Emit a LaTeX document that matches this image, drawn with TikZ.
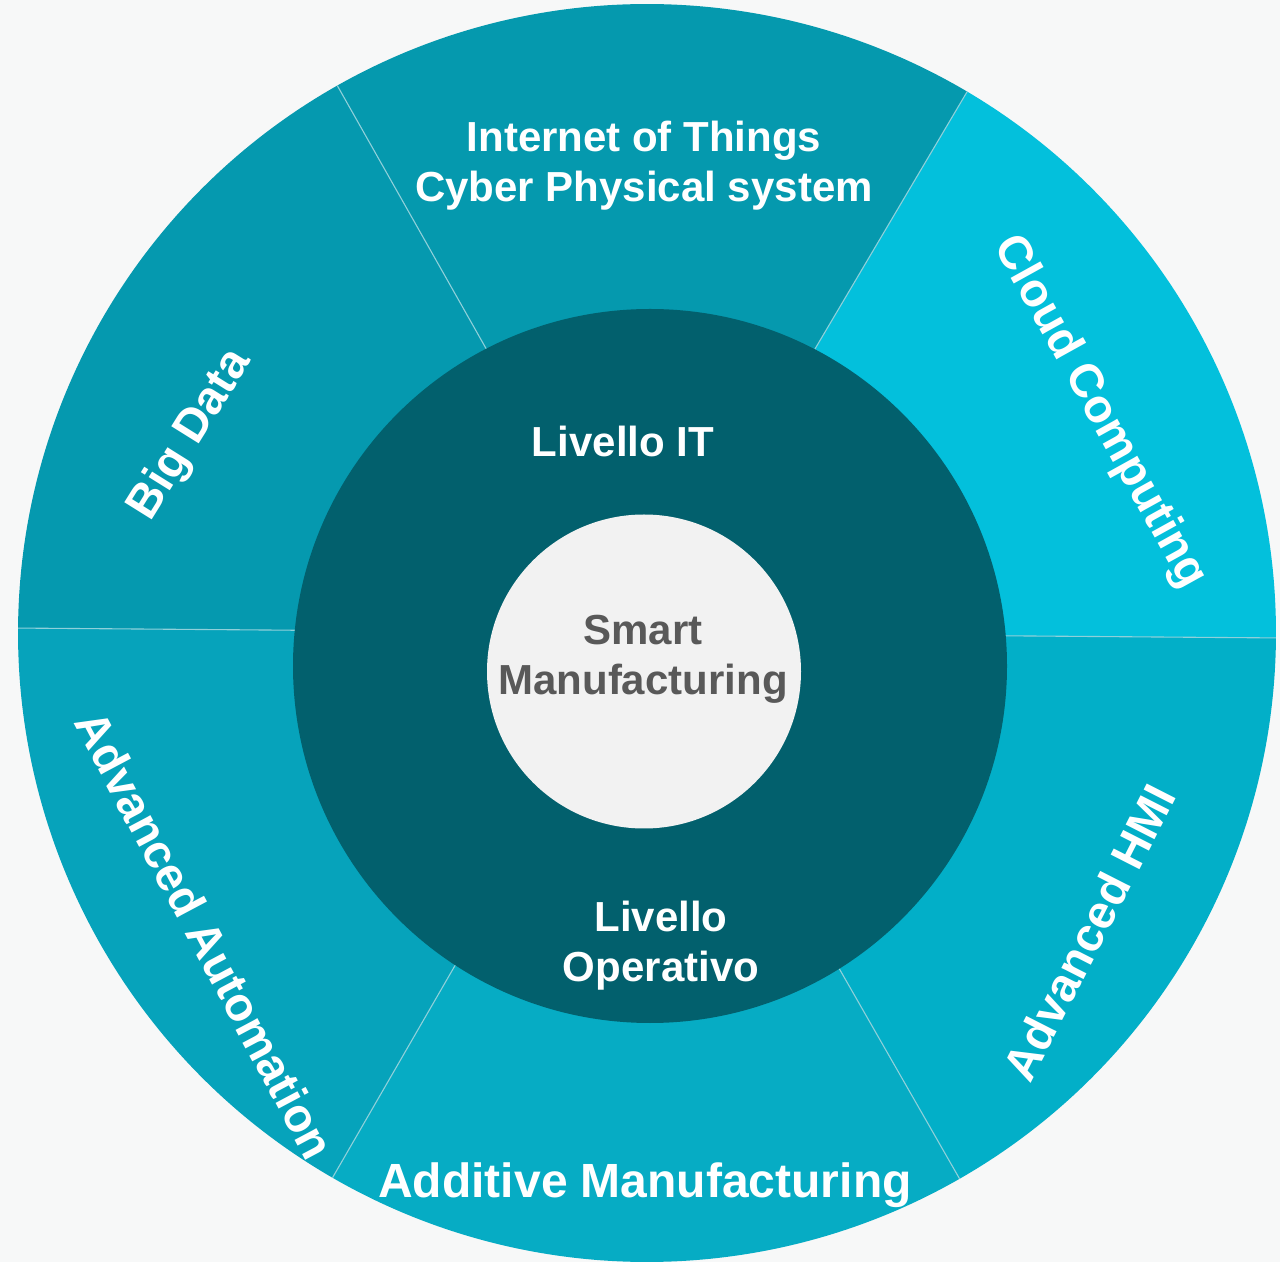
\documentclass[tikz,border=0pt]{standalone}
\usepackage{fontspec}
\setmainfont{Liberation Sans}
\definecolor{bgc}{HTML}{F7F8F8}
\definecolor{cCloud}{HTML}{03C0DC}
\definecolor{cIoT}{HTML}{0599AE}
\definecolor{cBig}{HTML}{0599AF}
\definecolor{cAuto}{HTML}{06A3BB}
\definecolor{cAdd}{HTML}{06ACC4}
\definecolor{cHMI}{HTML}{02AFC8}
\definecolor{cDark}{HTML}{02606D}
\definecolor{cCore}{HTML}{F2F2F2}
\definecolor{cCoreText}{HTML}{595959}
\definecolor{cDiv}{HTML}{8FD0DA}
\begin{document}
\begin{tikzpicture}[x=1pt,y=1pt,
  lbl/.style={text=white,font=\bfseries\fontsize{42}{50}\selectfont,align=center,inner sep=0pt},
  ring/.style={lbl,font=\bfseries\fontsize{47}{56}\selectfont},
  divider/.style={draw=cDiv,line width=1.1pt}]
\fill[bgc] (0,0) rectangle (1280,1262);
\useasboundingbox (0,0) rectangle (1280,1262);
\coordinate (O) at (647,629);
% sectors
\fill[cCloud] (O) -- ++(-0.45:629pt) arc[start angle=-0.45,end angle=59.4,radius=629pt] -- cycle;
\fill[cIoT]   (O) -- ++(59.4:629pt) arc[start angle=59.4,end angle=119.5,radius=629pt] -- cycle;
\fill[cBig]   (O) -- ++(119.5:629pt) arc[start angle=119.5,end angle=179.55,radius=629pt] -- cycle;
\fill[cAuto]  (O) -- ++(179.55:629pt) arc[start angle=179.55,end angle=240,radius=629pt] -- cycle;
\fill[cAdd]   (O) -- ++(240:629pt) arc[start angle=240,end angle=299.8,radius=629pt] -- cycle;
\fill[cHMI]   (O) -- ++(299.8:629pt) arc[start angle=299.8,end angle=359.55,radius=629pt] -- cycle;
% dividers
\foreach \a/\n in {-0.45/d0,59.4/d1,119.5/d2,179.55/d3,240/d4,299.8/d5}{
  \coordinate (\n) at ([shift={(\a:629pt)}]O);
  \draw[divider] (O) -- (\n);
}
% inner levels
\node[circle,fill=cDark,minimum size=714pt,inner sep=0pt] (lev) at (650,596) {};
\node[circle,fill=cCore,minimum size=314pt,inner sep=0pt] (core) at (644,590.5) {};
% texts
\node[lbl,anchor=base] (it) at (623,805) {Livello IT};
\node[lbl,anchor=base] (op) at (661,280) {Livello\\Operativo};
\node[lbl,text=cCoreText,anchor=base] (sm) at (643,567) {Smart\\Manufacturing};
\node[lbl,anchor=base] (iot) at (644,1060) {Internet of Things\\Cyber Physical system};
\begin{scope}
\clip (O) circle[radius=629pt];
\node[ring,font=\bfseries\fontsize{48}{56}\selectfont,anchor=base] (add) at (645,65) {Additive Manufacturing};
\node[ring,rotate=58] (big) at (191,827) {Big Data};
\node[ring,rotate=-61] (cloud) at (1099.5,849.5) {Cloud Computing};
\node[ring,rotate=63] (hmi) at (1089,329.5) {Advanced HMI};
\node[ring,rotate=-62] (auto) at (205,327) {Advanced Automation};
\end{scope}
\end{tikzpicture}
\end{document}
